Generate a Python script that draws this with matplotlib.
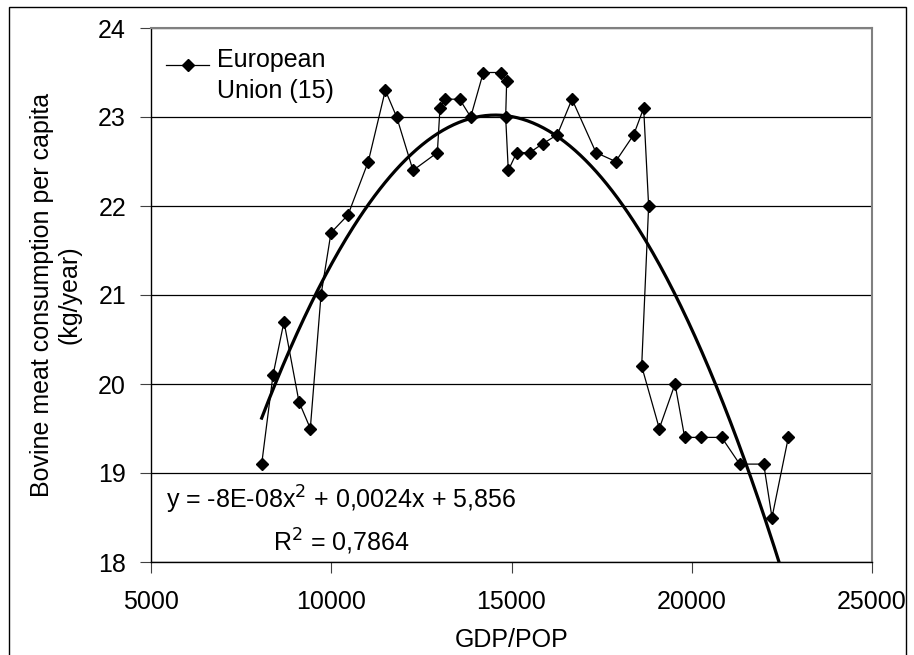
import numpy as np
import matplotlib
matplotlib.use('Agg')
import matplotlib.pyplot as plt
from matplotlib.patches import Rectangle
from matplotlib.legend_handler import HandlerLine2D

plt.rcParams['font.family'] = ['Liberation Sans', 'DejaVu Sans']

# GDP per capita (x) and bovine meat consumption (kg/year), EU-15, in series order
gdp = [8070, 8384, 8689, 9105, 9419, 9716, 9993, 10465, 11028, 11500,
       11815, 12268, 12943, 13016, 13145, 13561, 13868, 14218, 14700, 14866,
       14838, 14911, 15144, 15505, 15865, 16270, 16678, 17344, 17889, 18389,
       18666, 18804, 18611, 19100, 19536, 19804, 20248, 20830, 21330, 21996,
       22226, 22679]
meat = [19.1, 20.1, 20.7, 19.8, 19.5, 21.0, 21.7, 21.9, 22.5, 23.3,
        23.0, 22.4, 22.6, 23.1, 23.2, 23.2, 23.0, 23.5, 23.5, 23.4,
        23.0, 22.4, 22.6, 22.6, 22.7, 22.8, 23.2, 22.6, 22.5, 22.8,
        23.1, 22.0, 20.2, 19.5, 20.0, 19.4, 19.4, 19.4, 19.1, 19.1,
        18.5, 19.4]

x_ticks = [5000, 10000, 15000, 20000, 25000]
y_ticks = [18, 19, 20, 21, 22, 23, 24]


class FirstLineHandler(HandlerLine2D):
    # put the legend sample next to the first line of a two-line label
    def create_artists(self, legend, orig_handle, xdescent, ydescent,
                       width, height, fontsize, trans):
        return super().create_artists(legend, orig_handle, xdescent,
                                      ydescent - 17, width, height,
                                      fontsize, trans)


fig = plt.figure(figsize=(9.14, 6.55), dpi=100)
W, H = 914, 655
ax = fig.add_axes([151 / W, (H - 562) / H, 721 / W, 534 / H])

# polynomial trend line (order 2)
coef = np.polyfit(gdp, meat, 2)
xs = np.linspace(min(gdp), max(gdp), 300)
ax.plot(xs, np.polyval(coef, xs), color='black', lw=2.3, zorder=3)

line, = ax.plot(gdp, meat, color='black', lw=0.9, marker='D', markersize=6.5,
                label='European\nUnion (15)', zorder=4)

ax.set_xlim(5000, 25000)
ax.set_ylim(18, 24)
ax.set_xticks(x_ticks)
ax.set_yticks(y_ticks)
ax.tick_params(labelsize=18, direction='out', length=8, color='#404040')
ax.tick_params(axis='x', pad=12)
ax.tick_params(axis='y', pad=10)
ax.grid(axis='y', color='black', lw=0.9)
ax.set_axisbelow(True)
for s in ['top', 'right']:
    ax.spines[s].set_color('#808080')
    ax.spines[s].set_linewidth(1.5)
for s in ['left', 'bottom']:
    ax.spines[s].set_color('black')
    ax.spines[s].set_linewidth(1.0)

ax.set_xlabel('GDP/POP', fontsize=18, labelpad=10)
ax.set_ylabel('Bovine meat consumption per capita\n(kg/year)', fontsize=18,
              labelpad=12)

leg = ax.legend(loc='upper left', bbox_to_anchor=(0.021, 0.962), frameon=False,
                fontsize=18, handlelength=1.72, handletextpad=0.32,
                borderaxespad=0, borderpad=0,
                handler_map={line: FirstLineHandler()})
for t in leg.get_texts():
    t.set_linespacing(1.35)

ax.text(0.264, 0.117, 'y = -8E-08x$^2$ + 0,0024x + 5,856', transform=ax.transAxes,
        fontsize=18, ha='center', va='center')
ax.text(0.264, 0.038, 'R$^2$ = 0,7864', transform=ax.transAxes,
        fontsize=18, ha='center', va='center')

fig.patches.append(Rectangle((9 / W, -0.01), 897 / W, 1 - 7 / H + 0.01,
                             transform=fig.transFigure, fill=False,
                             edgecolor='black', lw=1.0))

fig.savefig('out.png', dpi=100)
